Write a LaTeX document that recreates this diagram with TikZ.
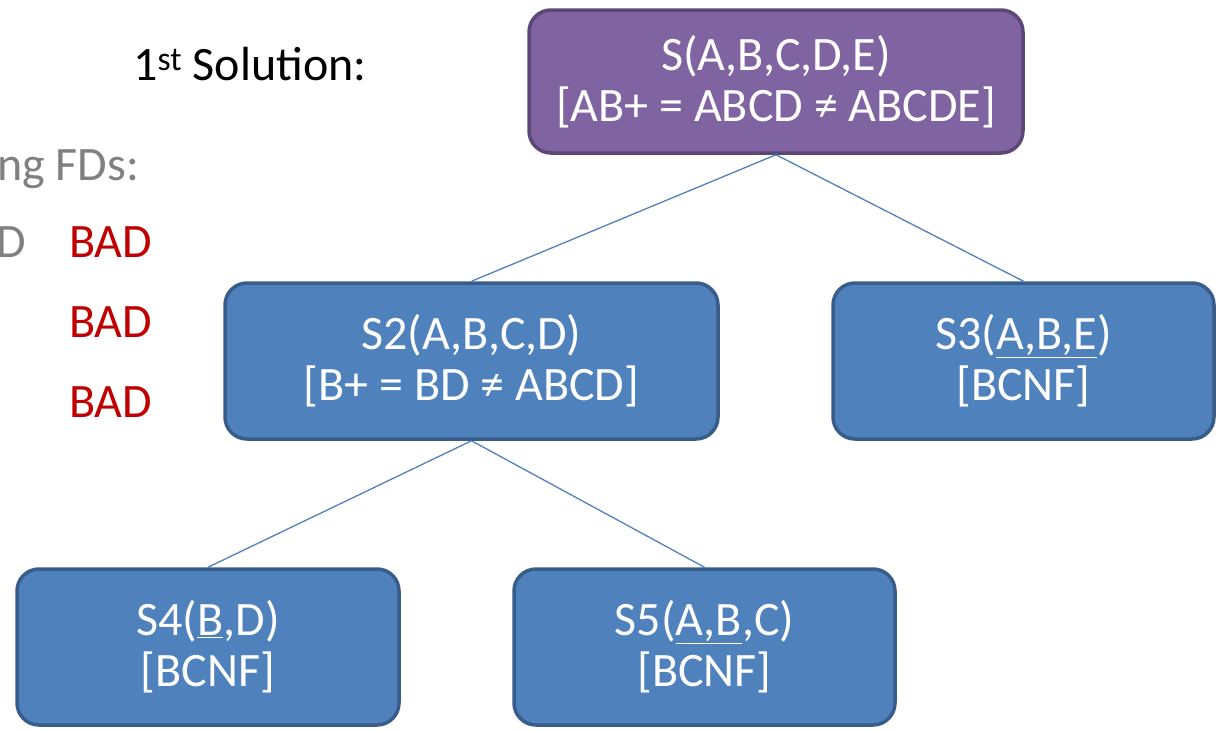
\documentclass[tikz,border=0pt]{standalone}
\usepackage{fontspec}
\setmainfont{Carlito}
\usepackage{tikz}
\usepackage{xcolor}
\definecolor{boxblue}{HTML}{4F81BD}
\definecolor{boxblueline}{HTML}{385D8A}
\definecolor{boxpurple}{HTML}{8064A2}
\definecolor{boxpurpleline}{HTML}{5C4776}
\definecolor{badred}{HTML}{C00000}
\definecolor{fdgray}{HTML}{808080}

\tikzset{
  relbox/.style={rectangle, rounded corners=22pt, draw=boxblueline, fill=boxblue, line width=3.5pt,
    text=white, align=center, inner sep=0pt, minimum height=156pt,
    font=\fontsize{48}{51}\selectfont},
  rootbox/.style={relbox, draw=boxpurpleline, fill=boxpurple, minimum height=143pt},
  treeline/.style={draw=boxblue, line width=1.3pt},
  sidetext/.style={anchor=base west, inner sep=0pt, font=\fontsize{48}{51}\selectfont}
}

\begin{document}
\begin{tikzpicture}[x=1pt, y=-1pt]
  \useasboundingbox (0,0) rectangle (1218,729);

  % left column
  \node[sidetext] (sol) at (133, 80) {1\textsuperscript{st} Solution:};
  \node[sidetext, text=fdgray] (fds) at (-3, 180) {ng FDs:};
  \node[sidetext, text=fdgray] (fdd) at (-4, 257) {D};
  \node[sidetext, text=badred] (bad1) at (69, 257) {BAD};
  \node[sidetext, text=badred] (bad2) at (69, 337) {BAD};
  \node[sidetext, text=badred] (bad3) at (69, 417) {BAD};

  % decomposition tree
  \node[rootbox, minimum width=494pt] (root) at (776, 81.5) {S(A,B,C,D,E)\\{}[AB+ = ABCD ≠ ABCDE]};
  \node[relbox, minimum width=493pt] (s2) at (471.5, 361) {S2(A,B,C,D)\\{}[B+ = BD ≠ ABCD]};
  \node[relbox, minimum width=381pt] (s3) at (1023.5, 361) {S3(\underline{A,B,E})\\{}[BCNF]};
  \node[relbox, minimum width=382pt] (s4) at (208, 647) {S4(\underline{B},D)\\{}[BCNF]};
  \node[relbox, minimum width=381pt] (s5) at (704.5, 647) {S5(\underline{A,B},C)\\{}[BCNF]};

  \draw[treeline] (root.south) -- (s2.north);
  \draw[treeline] (root.south) -- (s3.north);
  \draw[treeline] (s2.south) -- (s4.north);
  \draw[treeline] (s2.south) -- (s5.north);
\end{tikzpicture}
\end{document}
